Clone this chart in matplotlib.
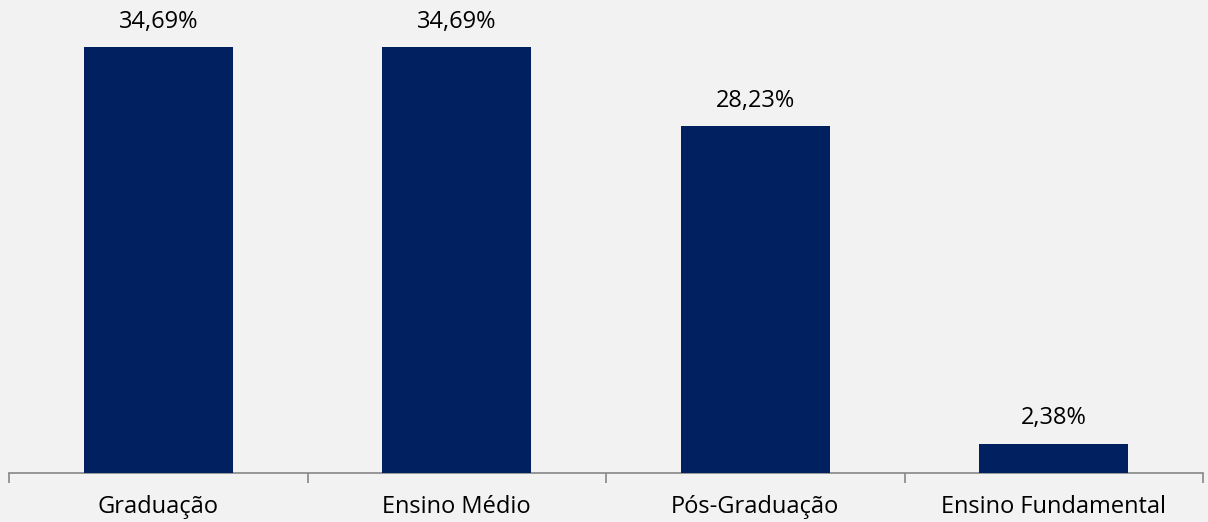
import matplotlib.pyplot as plt

categorias = ["Graduação", "Ensino Médio", "Pós-Graduação", "Ensino Fundamental"]
valores = [34.69, 34.69, 28.23, 2.38]
rotulos = ["34,69%", "34,69%", "28,23%", "2,38%"]

plt.rcParams["font.family"] = ["Open Sans", "DejaVu Sans"]

fig = plt.figure(figsize=(12.08, 5.22), dpi=100, facecolor="#f2f2f2")
ax = fig.add_axes([9 / 1208, 49 / 522, 1194 / 1208, 0.894])
ax.set_facecolor("#f2f2f2")

x = list(range(len(categorias)))
ax.bar(x, valores, width=0.5, color="#002060", zorder=3)

for xi, v, r in zip(x, valores, rotulos):
    ax.annotate(r, (xi, v), xytext=(0, 14), textcoords="offset points",
                ha="center", va="baseline", fontsize=17, color="#000000")

ax.set_xlim(-0.5, len(categorias) - 0.5)
ax.set_ylim(0, 38)
ax.set_yticks([])
ax.set_xticks([i - 0.5 for i in range(len(categorias) + 1)], minor=False)
ax.set_xticklabels([])
ax.set_xticks(x, minor=True)
ax.set_xticklabels(categorias, minor=True, fontsize=17)
ax.tick_params(axis="x", which="major", length=7, color="#868686", width=1.2)
ax.tick_params(axis="x", which="minor", length=0, pad=16)

for s in ["top", "left", "right"]:
    ax.spines[s].set_visible(False)
ax.spines["bottom"].set_color("#868686")
ax.spines["bottom"].set_linewidth(1.2)

fig.savefig("out.png", dpi=100, facecolor=fig.get_facecolor())
